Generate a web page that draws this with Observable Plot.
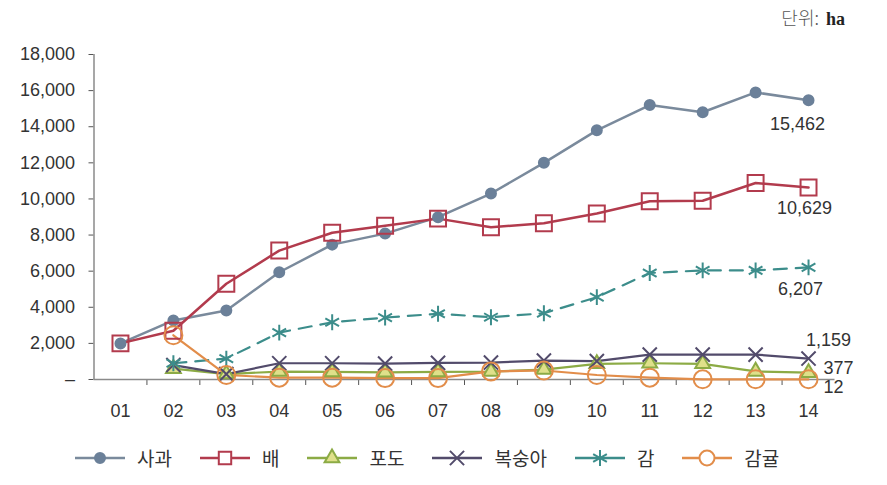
<!DOCTYPE html>
<html>
<head>
<meta charset="utf-8">
<script src="https://cdn.jsdelivr.net/npm/d3@7"></script>
<script src="https://cdn.jsdelivr.net/npm/@observablehq/plot@0.6"></script>
<style>
  body { margin: 0; background: #fff; }
  #wrap { position: relative; width: 887px; height: 485px; overflow: hidden; font-family: "Liberation Sans", Arial, sans-serif; }
  #unit { position: absolute; right: 42px; top: 4px; font-size: 18px; color: #555; white-space: nowrap; }
  #unit .k { font-family: "Noto Sans CJK KR", sans-serif; font-weight: 300; }
  #unit .u { font-family: "Liberation Serif", "DejaVu Serif", serif; font-weight: bold; color: #222; margin-left: 7px; }
  #chart { position: absolute; left: 0; top: 0; }
  #legend { position: absolute; left: 75px; top: 446px; display: flex; align-items: center; font-family: "Noto Sans CJK KR", sans-serif; font-size: 19px; color: #333; }
  #legend .item { display: flex; align-items: center; margin-right: 28px; }
  #legend .item span { margin-left: 12px; line-height: 24px; }
</style>
</head>
<body>
<div id="wrap">
  <div id="chart"></div>
  <div id="unit"><span class="k">단위:</span><span class="u">ha</span></div>
  <div id="legend"></div>
</div>
<script>
// ---- data ----
const years = ["01","02","03","04","05","06","07","08","09","10","11","12","13","14"];
const seriesNames = ["사과", "배", "포도", "복숭아", "감", "감귤"];
const apple     = [2000, 3270, 3820, 5940, 7470, 8080, 8990, 10300, 12000, 13800, 15200, 14800, 15900, 15462];
const pear      = [2000, 2700, 5300, 7140, 8130, 8520, 8910, 8430, 8650, 9190, 9870, 9900, 10880, 10629];
const grape     = [null, 600, 300, 440, 420, 400, 420, 440, 550, 870, 900, 870, 450, 377];
const peach     = [null, 800, 300, 900, 900, 880, 920, 940, 1050, 1020, 1380, 1380, 1380, 1159];
const persimmon = [null, 900, 1160, 2600, 3170, 3430, 3640, 3450, 3670, 4560, 5900, 6040, 6040, 6207];
const mandarin  = [null, 2450, 250, 100, 100, 80, 80, 450, 500, 250, 100, 12, 12, 12];
const yTicks = [0, 2000, 4000, 6000, 8000, 10000, 12000, 14000, 16000, 18000];

const valuesByName = {"사과": apple, "배": pear, "포도": grape, "복숭아": peach, "감": persimmon, "감귤": mandarin};

// ---- styles ----
const styles = {
  "사과":   {stroke: "#7a8a9c", width: 2.5, symbol: "circle",   r: 5,   fill: "#6b8099", mstroke: "#6b8099", dash: null, dx: -11, dy: 24},
  "배":     {stroke: "#b23b4d", width: 2.5, symbol: "square",   r: 9,   fill: "none",    mstroke: "#b23b4d", dash: null, dx: -4,  dy: 21},
  "포도":   {stroke: "#8cab45", width: 2.2, symbol: "triangle", r: 5.5, fill: "#dfe08a", mstroke: "#8cab45", dash: null, dx: 30,  dy: -4},
  "복숭아": {stroke: "#524b6b", width: 2.2, symbol: "times",    r: 6.5, fill: "none",    mstroke: "#524b6b", dash: null, dx: 20,  dy: -18},
  "감":     {stroke: "#3c8d8b", width: 2.2, symbol: "asterisk", r: 7.5, fill: "none",    mstroke: "#3c8d8b", dash: "13,9", dx: -8, dy: 22},
  "감귤":   {stroke: "#e28d4a", width: 2.2, symbol: "circle",   r: 9,   fill: "none",    mstroke: "#e28d4a", dash: null, dx: 25,  dy: 8}
};

const rows = name => valuesByName[name]
  .map((v, i) => ({s: name, x: i + 1, v}))
  .filter(d => d.v != null);

const marks = [];
const xDomain = [0.5, years.length + 0.5];

// axes
marks.push(Plot.axisY({ticks: yTicks, tickSize: 5, tickPadding: 14, fontSize: 18, stroke: "#555",
  color: "#333", tickFormat: d => d === 0 ? "–" : d3.format(",")(d), label: null}));
marks.push(Plot.axisX({ticks: d3.range(1.5, years.length, 1), tickSize: 6, tickFormat: () => "", stroke: "#555", label: null}));
marks.push(Plot.axisX({ticks: d3.range(1, years.length + 1), tickSize: 0, tickPadding: 25, fontSize: 18,
  color: "#333", tickFormat: d => years[d - 1], label: null}));
marks.push(Plot.ruleX([xDomain[0]], {y1: yTicks[0], y2: yTicks[yTicks.length - 1], stroke: "#8a8a8a", strokeWidth: 1.5}));
marks.push(Plot.ruleY([0], {x1: xDomain[0], x2: xDomain[1], stroke: "#8a8a8a", strokeWidth: 1.5}));

// lines
for (const name of seriesNames) {
  const st = styles[name];
  marks.push(Plot.line(rows(name), {x: "x", y: "v", stroke: st.stroke, strokeWidth: st.width,
    strokeDasharray: st.dash || undefined}));
}
// markers
for (const name of seriesNames) {
  const st = styles[name];
  marks.push(Plot.dot(rows(name), {x: "x", y: "v", symbol: () => st.symbol, r: st.r,
    fill: st.fill, stroke: st.mstroke, strokeWidth: 2}));
}
// end labels
for (const name of seriesNames) {
  const st = styles[name];
  const r = rows(name);
  marks.push(Plot.text([r[r.length - 1]], {x: "x", y: "v", text: d => d3.format(",")(d.v),
    dx: st.dx, dy: st.dy, fontSize: 18, fill: "#333"}));
}

const plot = Plot.plot({
  width: 887,
  height: 430,
  marginTop: 54,
  marginBottom: 51,
  marginLeft: 93.5,
  marginRight: 52.5,
  style: {fontFamily: "'Liberation Sans', Arial, sans-serif", background: "transparent", overflow: "visible"},
  x: {type: "linear", domain: xDomain, axis: null},
  y: {domain: [yTicks[0], yTicks[yTicks.length - 1]], axis: null},
  symbol: {type: "identity"},
  marks
});
document.getElementById("chart").appendChild(plot);

// legend
const legend = d3.select("#legend");
for (const name of seriesNames) {
  const st = styles[name];
  const item = legend.append("div").attr("class", "item");
  const svg = item.append("svg").attr("width", 50).attr("height", 22);
  svg.append("line").attr("x1", 0).attr("x2", 50).attr("y1", 11).attr("y2", 11)
    .attr("stroke", st.stroke).attr("stroke-width", 2.5);
  const symMap = {circle: d3.symbolCircle, square: d3.symbolSquare, triangle: d3.symbolTriangle,
    times: d3.symbolTimes, asterisk: d3.symbolAsterisk};
  const rr = name === "감귤" ? 7.5 : name === "배" ? 7 : st.r;
  svg.append("path").attr("transform", "translate(25,11)")
    .attr("d", d3.symbol(symMap[st.symbol], Math.PI * rr * rr)())
    .attr("fill", st.fill === "none" ? "#fff" : st.fill).attr("stroke", st.mstroke).attr("stroke-width", 2);
  item.append("span").text(name);
}
</script>
</body>
</html>
